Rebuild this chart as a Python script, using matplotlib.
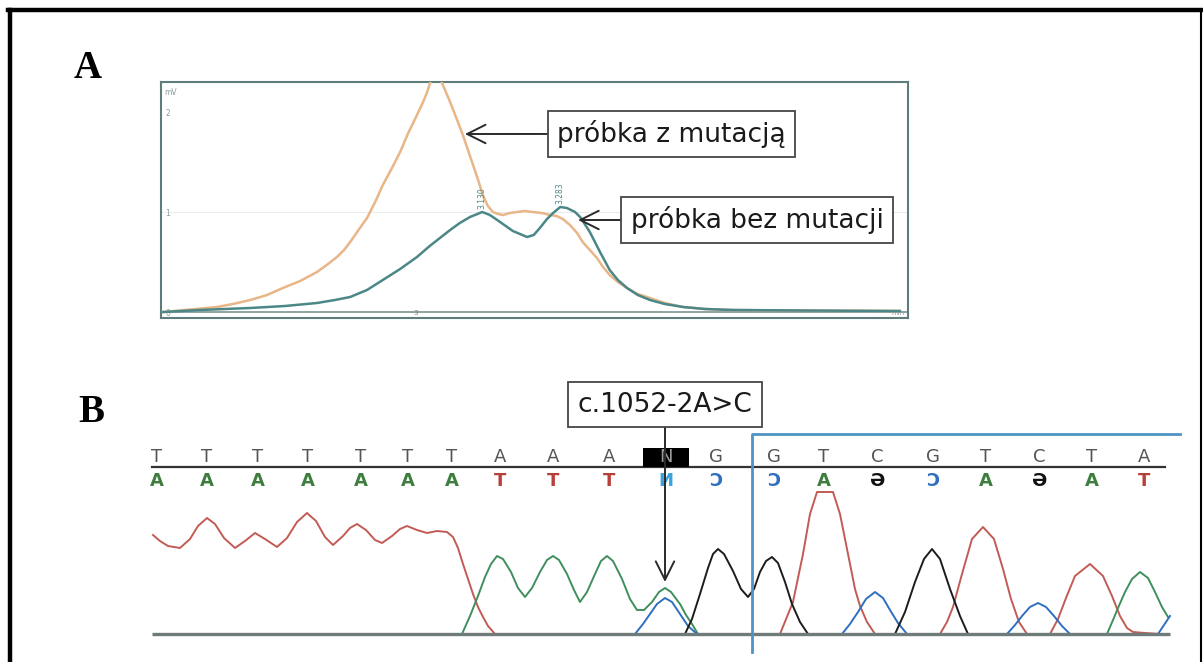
import numpy as np
import matplotlib
matplotlib.use("Agg")
import matplotlib.pyplot as plt
from matplotlib.lines import Line2D
from matplotlib.patches import Rectangle

nan = np.nan

# ---- panel A: chromatogram, time [min] vs signal [mV] ----
teal_t = [2.504, 2.576, 2.675, 2.743, 2.806, 2.841, 2.871, 2.904, 2.935, 2.969,
          3.002, 3.027, 3.047, 3.067, 3.086, 3.106, 3.130, 3.145, 3.165, 3.190,
          3.218, 3.231, 3.243, 3.257, 3.269, 3.283, 3.296, 3.312, 3.322, 3.331,
          3.341, 3.361, 3.380, 3.396, 3.414, 3.435, 3.459, 3.488, 3.524, 3.567,
          3.622, 3.753, 3.949]
teal_mv = [0.0, 0.02, 0.04, 0.06, 0.09, 0.12, 0.15, 0.22, 0.32, 0.43,
           0.55, 0.66, 0.74, 0.82, 0.89, 0.95, 1.00, 0.97, 0.90, 0.81,
           0.75, 0.77, 0.84, 0.93, 0.99, 1.05, 1.04, 1.00, 0.95, 0.88,
           0.80, 0.60, 0.42, 0.32, 0.24, 0.17, 0.12, 0.08, 0.05, 0.03,
           0.02, 0.015, 0.01]
orange_t = [2.504, 2.557, 2.610, 2.641, 2.675, 2.708, 2.739, 2.773, 2.806, 2.825,
            2.845, 2.859, 2.871, 2.886, 2.904, 2.920, 2.935, 2.953, 2.969, 2.984,
            3.002, 3.014, 3.022, 3.031, 3.047, 3.057, 3.067, 3.080, 3.092, 3.102,
            3.112, 3.122, 3.131, 3.141, 3.151, 3.161, 3.171, 3.184, 3.198, 3.214,
            3.229, 3.247, 3.263, 3.276, 3.288, 3.302, 3.316, 3.327, 3.341, 3.355,
            3.367, 3.380, 3.396, 3.414, 3.435, 3.459, 3.488, 3.524, 3.567, 3.622,
            3.753, 3.949]
orange_mv = [0.0, 0.025, 0.05, 0.08, 0.12, 0.17, 0.24, 0.31, 0.40, 0.47,
             0.55, 0.62, 0.70, 0.81, 0.94, 1.10, 1.27, 1.44, 1.60, 1.78,
             1.97, 2.10, 2.20, 2.34, 2.34, 2.22, 2.10, 1.93, 1.77, 1.62,
             1.47, 1.32, 1.17, 1.06, 1.00, 0.98, 0.97, 0.99, 1.00, 1.01,
             1.00, 0.99, 0.97, 0.96, 0.93, 0.87, 0.79, 0.70, 0.62, 0.54,
             0.45, 0.37, 0.30, 0.24, 0.18, 0.14, 0.09, 0.05, 0.03, 0.02,
             0.015, 0.01]
peak_labels = ["3.130", "3.283"]
peak_t = [3.130, 3.283]
peak_mv = [1.00, 1.05]

# ---- panel B: sequencing trace (scan position vs intensity) ----
top_bases = list("TTTTTTTAAANGGTCGTCTA")
base_pos = [157, 207, 258, 308, 361, 408, 452, 500, 553, 609,
            666, 716, 774, 824, 877, 933, 986, 1039, 1092, 1144]
# reverse strand letters, drawn mirrored as in the software
bottom_glyph = {"T": "A", "A": "T", "G": "Ɔ", "C": "Ə", "N": "И"}
bottom_color = {"T": "#3d7d3d", "A": "#b8403a", "G": "#2f6fbf", "C": "#111111", "N": "#3aa3dc"}

red_x = [153, 160, 168, 180, 190, 198, 207, 215, 224, 235, 245, 255, 265, 277, 287,
         297, 307, 316, 325, 333, 343, 350, 357, 366, 375, 382, 392, 400, 407, 417,
         427, 437, 447, 453, 458, 463, 468, 473, 478, 483, 488, 495, nan,
         780, 793, 803, 810, 817, 833, 840, 848, 855, 860, 867, 875, nan,
         940, 947, 953, 962, 972, 983, 994, 1003, 1011, 1019, 1027, nan,
         1050, 1058, 1066, 1075, 1090, 1103, 1112, 1120, 1127, 1133, 1145, 1160]
red_y = [99, 93, 88, 86, 95, 108, 116, 110, 96, 86, 93, 101, 95, 87, 96,
         112, 121, 113, 97, 89, 98, 106, 110, 104, 94, 91, 98, 105, 108, 104,
         101, 103, 102, 97, 86, 70, 55, 40, 27, 17, 8, 0, nan,
         0, 32, 80, 120, 142, 142, 120, 80, 45, 28, 12, 0, nan,
         0, 12, 27, 60, 95, 107, 95, 65, 35, 12, 0, nan,
         0, 15, 36, 58, 70, 58, 38, 18, 6, 2, 1, 0]
green_x = [462, 470, 478, 485, 491, 497, 503, 511, 518, 525, 532, 540, 547, 553, 559,
           567, 574, 580, 587, 595, 601, 607, 613, 622, 630, 637, 644, 652, 659, 665,
           671, 680, 686, 692, 698, nan,
           1107, 1113, 1118, 1125, 1132, 1140, 1148, 1155, 1162, 1168]
green_y = [0, 18, 38, 57, 70, 78, 75, 62, 46, 37, 46, 62, 74, 78, 74,
           60, 44, 32, 42, 60, 73, 78, 73, 55, 35, 24, 24, 32, 42, 46,
           42, 30, 19, 10, 0, nan,
           0, 14, 26, 42, 55, 62, 56, 42, 27, 17]
blue_x = [635, 643, 650, 657, 665, 672, 680, 688, 697, nan,
          842, 850, 858, 866, 875, 883, 890, 898, 907, nan,
          1007, 1015, 1022, 1030, 1038, 1046, 1054, 1062, 1070, nan,
          1158, 1164, 1170]
blue_y = [0, 10, 20, 30, 36, 32, 20, 8, 0, nan,
          0, 10, 22, 35, 42, 36, 24, 11, 0, nan,
          0, 9, 18, 27, 31, 27, 18, 8, 0, nan,
          0, 9, 18]
black_x = [685, 692, 700, 708, 713, 718, 724, 733, 741, 748, 754, 760, 766, 772, 778,
           785, 792, 800, 808, nan,
           895, 905, 915, 924, 932, 940, 950, 960, 968]
black_y = [0, 15, 40, 66, 80, 85, 80, 63, 45, 37, 45, 62, 73, 77, 71,
           52, 30, 12, 0, nan,
           0, 22, 52, 75, 85, 75, 45, 18, 0]

W, H = 1203, 662
fig = plt.figure(figsize=(W / 100, H / 100), dpi=100)
fig.patch.set_facecolor("white")


def fx(px):
    return px / W


def fy(py):
    return 1 - py / H


# outer frame of the figure
fig.add_artist(Line2D([fx(10), fx(10)], [0, fy(10)], color="black", lw=3.2,
                      transform=fig.transFigure))
fig.add_artist(Line2D([fx(8), fx(1201)], [fy(10), fy(10)], color="black", lw=3.2,
                      transform=fig.transFigure))
fig.add_artist(Line2D([fx(1201), fx(1201)], [0, fy(10)], color="black", lw=1.5,
                      transform=fig.transFigure))

fig.text(fx(88), fy(68), "A", fontsize=28, fontweight="bold", family="Liberation Serif",
         ha="center", va="center")
fig.text(fx(91), fy(412), "B", fontsize=28, fontweight="bold", family="Liberation Serif",
         ha="center", va="center")

# ---------------- panel A ----------------
axA = fig.add_axes([fx(161), fy(318), fx(908) - fx(161), fy(82) - fy(318)])
axA.set_xlim(2.5, 3.965)
axA.set_ylim(-0.06, 2.30)
axA.axhline(1, color="#dfe9ee", lw=0.6, zorder=0)
axA.axhline(0, color="#7d9393", lw=1.2, zorder=1)
axA.plot(orange_t, orange_mv, color="#e8b687", lw=1.8, zorder=3)
axA.plot(teal_t, teal_mv, color="#4b8787", lw=1.8, zorder=4)
for lab, t, v in zip(peak_labels, peak_t, peak_mv):
    axA.text(t, v + 0.03, lab, rotation=90, fontsize=5.5, color="#4b8787",
             ha="center", va="bottom")

for s in axA.spines.values():
    s.set_color("#5f7c7c")
    s.set_linewidth(1.5)
axA.set_yticks([0, 1, 2])
axA.tick_params(axis="y", length=0, pad=-3, labelsize=5.5, labelcolor="#8c9c9c")
for lab in axA.get_yticklabels():
    lab.set_horizontalalignment("left")
axA.set_xticks([3])
axA.tick_params(axis="x", length=0, pad=-6, labelsize=5, labelcolor="#6c7c7c")
axA.text(0.004, 0.955, "mV", transform=axA.transAxes, fontsize=5.5, color="#8c9c9c",
         ha="left", va="center")
axA.text(0.995, 0.02, "min", transform=axA.transAxes, fontsize=5, color="#8c9c9c",
         ha="right", va="center")

box_kw = dict(boxstyle="square,pad=0.35", fc="white", ec="#454545", lw=1.3)
arr_kw = dict(arrowstyle="->,head_length=0.7,head_width=0.35", color="#2a2a2a", lw=1.4,
              shrinkA=0, shrinkB=0)
axA.annotate("próbka z mutacją", xy=(3.096, 1.78), xytext=(0.683, 0.78),
             textcoords="axes fraction", ha="center", va="center", fontsize=19,
             family="DejaVu Sans", color="#1a1a1a", bbox=box_kw, arrowprops=arr_kw,
             zorder=6)
axA.annotate("próbka bez mutacji", xy=(3.318, 0.92), xytext=(0.798, 0.415),
             textcoords="axes fraction", ha="center", va="center", fontsize=19,
             family="DejaVu Sans", color="#1a1a1a", bbox=box_kw, arrowprops=arr_kw,
             zorder=6)

# ---------------- panel B ----------------
axB = fig.add_axes([fx(140), 0, fx(1190) - fx(140), fy(370)])
axB.set_xlim(140, 1190)
axB.set_ylim(-28, 264)
axB.axis("off")

axB.plot(red_x, red_y, color="#c25b55", lw=1.4, zorder=3)
axB.plot(green_x, green_y, color="#3f8f5c", lw=1.4, zorder=3)
axB.plot(blue_x, blue_y, color="#2f6fbf", lw=1.4, zorder=3)
axB.plot(black_x, black_y, color="#1c1c1c", lw=1.4, zorder=3)
axB.plot([152, 1170], [0, 0], color="#6f7b7b", lw=2.4, zorder=4, solid_capstyle="butt")

# base-call letters
axB.plot([152, 1165], [167, 167], color="#333333", lw=1.6, zorder=4)
n_idx = top_bases.index("N")
axB.add_patch(Rectangle((base_pos[n_idx] - 23, 167), 46, 19, fc="black", ec="none", zorder=4))
for b, x in zip(top_bases, base_pos):
    axB.text(x, 168, b, fontsize=13, color="#9a9a9a" if b == "N" else "#555555",
             ha="center", va="bottom", family="DejaVu Sans", zorder=5, clip_on=True)
    axB.text(x, 153, bottom_glyph[b], fontsize=13, fontweight="bold", color=bottom_color[b],
             ha="center", va="center", family="DejaVu Sans", zorder=5, clip_on=True)

# reading frame marker
axB.plot([752, 752, 1180], [-18, 200, 200], color="#4f93c4", lw=2.0, zorder=5)

axB.annotate("c.1052-2A>C", xy=(base_pos[n_idx] - 1, 52), xytext=(665, 229.5),
             textcoords="data", ha="center", va="center", fontsize=19,
             family="DejaVu Sans", color="#1a1a1a",
             bbox=dict(boxstyle="square,pad=0.35", fc="white", ec="#454545", lw=1.3),
             arrowprops=dict(arrowstyle="->,head_length=0.7,head_width=0.35",
                             color="#2a2a2a", lw=1.4, shrinkA=0, shrinkB=0),
             zorder=7)

fig.savefig("out.png", dpi=100, facecolor="white")
